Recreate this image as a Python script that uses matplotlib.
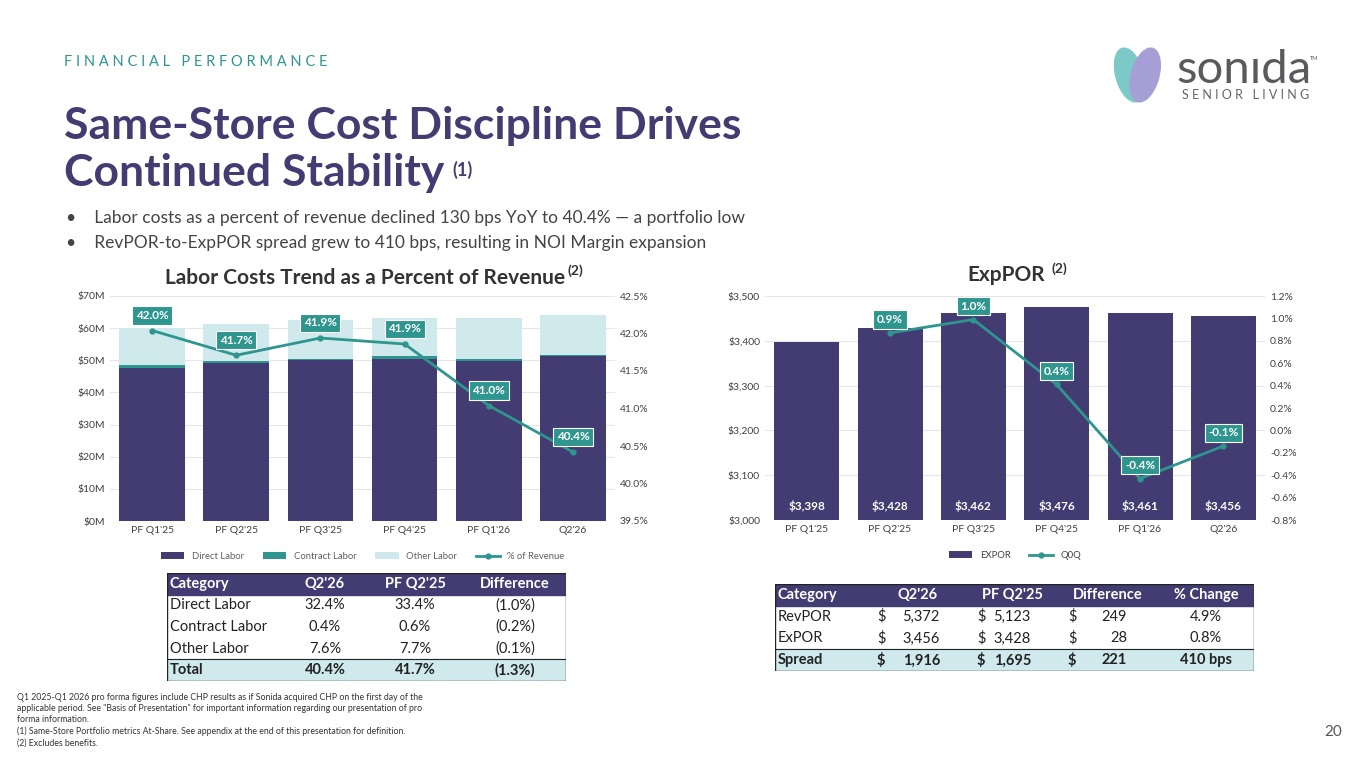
import matplotlib
matplotlib.use("Agg")
import matplotlib.pyplot as plt
from matplotlib.patches import Rectangle, Ellipse

plt.rcParams['font.family'] = ['Lato', 'DejaVu Sans']

NAVY = '#433c72'
TEAL = '#2e958f'
LIGHT = '#cfe9ec'
GRID = '#e6e6e6'

# labor chart data
quarters = ["PF Q1'25", "PF Q2'25", "PF Q3'25", "PF Q4'25", "PF Q1'26", "Q2'26"]
direct_labor = [47.5, 49.3, 50.2, 50.5, 49.8, 51.3]
contract_labor = [0.9, 0.5, 0.3, 0.7, 0.5, 0.5]
other_labor = [11.8, 11.4, 12.0, 11.9, 12.8, 12.2]
pct_revenue = [42.04, 41.71, 41.94, 41.86, 41.04, 40.42]
pct_labels = ['42.0%', '41.7%', '41.9%', '41.9%', '41.0%', '40.4%']

# ExpPOR chart data
expor = [3398, 3428, 3462, 3476, 3461, 3456]
qoq = [None, 0.87, 0.99, 0.41, -0.43, -0.14]
qoq_labels = [None, '0.9%', '1.0%', '0.4%', '-0.4%', '-0.1%']

# tables
labor_rows = [['Category', "Q2'26", "PF Q2'25", 'Difference'],
              ['Direct Labor', '32.4%', '33.4%', '(1.0%)'],
              ['Contract Labor', '0.4%', '0.6%', '(0.2%)'],
              ['Other Labor', '7.6%', '7.7%', '(0.1%)'],
              ['Total', '40.4%', '41.7%', '(1.3%)']]
por_rows = [['Category', "Q2'26", "PF Q2'25", 'Difference', '% Change'],
            ['RevPOR', '5,372', '5,123', '249', '4.9%'],
            ['ExPOR', '3,456', '3,428', '28', '0.8%'],
            ['Spread', '1,916', '1,695', '221', '410 bps']]

W, H = 1365, 768
fig = plt.figure(figsize=(W / 100, H / 100), dpi=100)
fig.patch.set_facecolor('white')


def px_axes(x0, y0, x1, y1):
    return fig.add_axes([x0 / W, 1 - y1 / H, (x1 - x0) / W, (y1 - y0) / H])


def ftext(x, y, s, **kw):
    fig.text(x / W, 1 - y / H, s, **kw)


# header
ftext(64, 62, 'F I N A N C I A L   P E R F O R M A N C E', fontsize=10.5, color=TEAL, va='center')
ftext(64, 126, 'Same-Store Cost Discipline Drives', fontsize=32, fontweight='bold', color=NAVY, va='center')
ftext(64, 173, 'Continued Stability', fontsize=32, fontweight='bold', color=NAVY, va='center')
ftext(452, 170, '(1)', fontsize=13, fontweight='bold', color=NAVY, va='center')
ftext(66, 218, '•    Labor costs as a percent of revenue declined 130 bps YoY to 40.4% — a portfolio low',
      fontsize=12.5, color='#444444', va='center')
ftext(66, 243, '•    RevPOR-to-ExpPOR spread grew to 410 bps, resulting in NOI Margin expansion',
      fontsize=12.5, color='#444444', va='center')

# logo
ftext(1176, 70, 'sonıda', fontsize=34, color='#5a5a5e', va='center')
ftext(1310, 58, 'TM', fontsize=4, color='#555559', va='center')
ftext(1182, 95, 'S E N I O R   L I V I N G', fontsize=9, color='#66666a', va='center')
lax = px_axes(1108, 40, 1168, 110)
lax.set_xlim(0, 1); lax.set_ylim(0, 1); lax.axis('off')
lax.add_patch(Ellipse((0.36, 0.5), 0.45, 0.8, angle=20, color='#7cc9c8'))
lax.add_patch(Ellipse((0.62, 0.5), 0.45, 0.8, angle=-20, color='#a59fd6'))

# left chart
ftext(365, 278, 'Labor Costs Trend as a Percent of Revenue', fontsize=15, fontweight='bold',
      color='#333333', ha='center', va='center')
ftext(568, 271, '(2)', fontsize=10, fontweight='bold', color='#333333', va='center')
ax = px_axes(110, 296, 615, 521)
x = range(len(quarters))
base2 = [a + b for a, b in zip(direct_labor, contract_labor)]
ax.bar(x, direct_labor, width=0.78, color=NAVY, label='Direct Labor', zorder=2)
ax.bar(x, contract_labor, bottom=direct_labor, width=0.78, color=TEAL, label='Contract Labor', zorder=2)
ax.bar(x, other_labor, bottom=base2, width=0.78, color=LIGHT, label='Other Labor', zorder=2)
ax.set_xlim(-0.5, 5.5)
ax.set_ylim(0, 70)
ax.set_yticks(range(0, 71, 10))
ax.set_yticklabels(['$%dM' % v for v in range(0, 71, 10)])
ax.grid(axis='y', color=GRID, zorder=0)
ax.set_xticks(list(x))
ax.set_xticklabels(quarters)
ax2 = ax.twinx()
ax2.plot(x, pct_revenue, color=TEAL, marker='o', markersize=3.5, lw=2, label='% of Revenue', zorder=3)
ax2.set_ylim(39.5, 42.5)
ax2.set_yticks([39.5, 40.0, 40.5, 41.0, 41.5, 42.0, 42.5])
ax2.set_yticklabels(['%.1f%%' % v for v in [39.5, 40.0, 40.5, 41.0, 41.5, 42.0, 42.5]])
for i, (v, s) in enumerate(zip(pct_revenue, pct_labels)):
    ax2.text(i, v + 0.2, s, ha='center', va='center', color='white', fontsize=8.5, fontweight='bold',
             bbox=dict(boxstyle='square,pad=0.3', fc=TEAL, ec='white', lw=0.8))
for a in (ax, ax2):
    for sp in a.spines.values():
        sp.set_visible(False)
    a.tick_params(length=0, labelsize=7.5, colors='#404040')
h1, l1 = ax.get_legend_handles_labels()
h2, l2 = ax2.get_legend_handles_labels()
ax.legend(h1 + h2, l1 + l2, loc='upper center', bbox_to_anchor=(0.5, -0.1), ncol=4,
          frameon=False, fontsize=6.8, labelcolor='#606060', handlelength=2.5)

# right chart
ftext(1006, 275, 'ExpPOR', fontsize=15, fontweight='bold', color='#333333', ha='center', va='center')
ftext(1051, 269, '(2)', fontsize=10, fontweight='bold', color='#333333', va='center')
bx = px_axes(765, 296, 1265, 520)
bx.bar(x, expor, width=0.78, color=NAVY, label='EXPOR', zorder=2)
bx.set_xlim(-0.5, 5.5)
bx.set_ylim(3000, 3500)
bx.set_yticks(range(3000, 3501, 100))
bx.set_yticklabels(['$%s' % format(v, ',') for v in range(3000, 3501, 100)])
bx.grid(axis='y', color=GRID, zorder=0)
bx.set_xticks(list(x))
bx.set_xticklabels(quarters)
for i, v in enumerate(expor):
    bx.text(i, 3032, '$' + format(v, ','), ha='center', va='center', color='white', fontsize=8.5, fontweight='bold')
bx2 = bx.twinx()
xs = [i for i, v in enumerate(qoq) if v is not None]
ys = [v for v in qoq if v is not None]
bx2.plot(xs, ys, color=TEAL, marker='o', markersize=3.5, lw=2, label='Q0Q', zorder=3)
bx2.set_ylim(-0.8, 1.2)
ticks = [-0.8, -0.6, -0.4, -0.2, 0.0, 0.2, 0.4, 0.6, 0.8, 1.0, 1.2]
bx2.set_yticks(ticks)
bx2.set_yticklabels(['%.1f%%' % t for t in ticks])
for i, v, s in zip(xs, ys, [l for l in qoq_labels if l is not None]):
    bx2.text(i, v + 0.12, s, ha='center', va='center', color='white', fontsize=8.5, fontweight='bold',
             bbox=dict(boxstyle='square,pad=0.3', fc=TEAL, ec='white', lw=0.8))
for a in (bx, bx2):
    for sp in a.spines.values():
        sp.set_visible(False)
    a.tick_params(length=0, labelsize=7.5, colors='#404040')
h1, l1 = bx.get_legend_handles_labels()
h2, l2 = bx2.get_legend_handles_labels()
bx.legend(h1 + h2, l1 + l2, loc='upper center', bbox_to_anchor=(0.5, -0.1), ncol=2,
          frameon=False, fontsize=6.8, labelcolor='#404040', handlelength=2.5)


# tables
def draw_table(rows, x0, y0, x1, aligns, head_x, rowh, dollar_cols=(), dollar_x=()):
    n = len(rows)
    tax = px_axes(x0, y0, x1, y0 + rowh * n)
    tax.set_xlim(x0, x1); tax.set_ylim(y0 + rowh * n, y0); tax.axis('off')
    for r, row in enumerate(rows):
        top = y0 + r * rowh
        if r == 0:
            tax.add_patch(Rectangle((x0, top), x1 - x0, rowh, color=NAVY))
        elif r == n - 1:
            tax.add_patch(Rectangle((x0, top), x1 - x0, rowh, color=LIGHT))
        bold = r == 0 or r == n - 1
        col = 'white' if r == 0 else '#222222'
        for c, cell in enumerate(row):
            al, xx = aligns[c]
            if r == 0 and c > 0:
                al, xx = 'center', head_x[c - 1]
            tax.text(xx, top + rowh / 2, cell, ha=al, va='center', fontsize=10.5,
                     fontweight='bold' if bold else 'normal', color=col)
            if r > 0 and c in dollar_cols:
                tax.text(dollar_x[dollar_cols.index(c)], top + rowh / 2, '$', ha='left', va='center',
                         fontsize=10.5, fontweight='bold' if bold else 'normal', color=col)
        if r == n - 1:
            tax.plot([x0, x1], [top, top], color='#222222', lw=0.8)
    tax.add_patch(Rectangle((x0, y0), x1 - x0, rowh * n, fill=False, ec='#222222', lw=1))


draw_table(labor_rows, 167, 573, 566,
           [('left', 170), ('center', 325), ('center', 415), ('center', 515)],
           [325, 415, 515], 21.6)
draw_table(por_rows, 775, 584, 1254,
           [('left', 778), ('right', 940), ('right', 1031), ('right', 1127), ('center', 1206)],
           [918, 1012, 1108, 1206], 21.8, dollar_cols=(1, 2, 3), dollar_x=(877, 977, 1068))

# footnotes
notes = ["Q1 2025-Q1 2026 pro forma figures include CHP results as if Sonida acquired CHP on the first day of the",
         'applicable period. See "Basis of Presentation" for important information regarding our presentation of pro',
         'forma information.',
         '(1) Same-Store Portfolio metrics At-Share. See appendix at the end of this presentation for definition.',
         '(2) Excludes benefits.']
for i, n in enumerate(notes):
    ftext(17, 697 + i * 11.5, n, fontsize=6.3, color='#333333', va='center')
ftext(1342, 732, '20', fontsize=11, color='#555555', ha='right', va='center')

fig.savefig('out.png', dpi=100)
